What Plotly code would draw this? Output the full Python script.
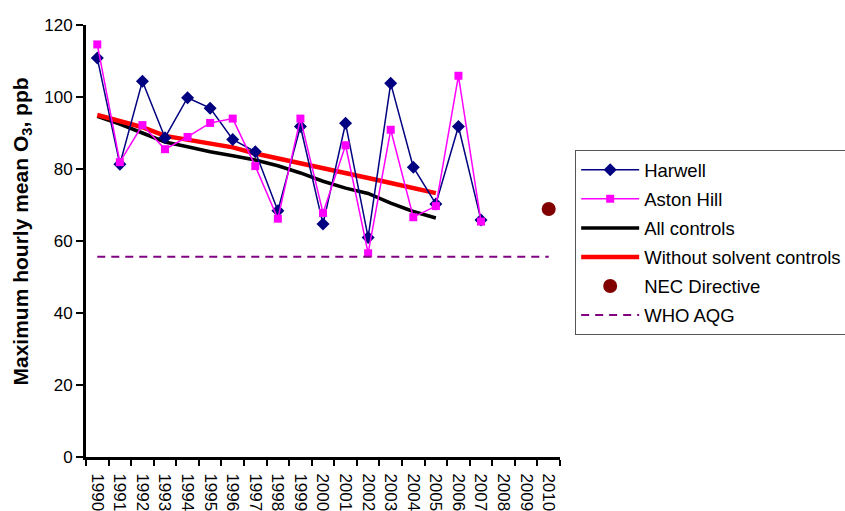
import plotly.graph_objects as go

years = [str(y) for y in range(1990, 2011)]

harwell_years = [str(y) for y in range(1990, 2008)]
harwell = [110.8, 81.3, 104.4, 88.7, 99.8, 96.9, 88.2, 84.8, 68.4,
           91.8, 64.7, 92.7, 61.0, 103.8, 80.5, 70.3, 91.8, 65.8]
aston_hill = [114.6, 81.9, 92.2, 85.5, 88.9, 92.8, 94.0, 80.8, 66.2,
              94.0, 67.8, 86.6, 56.6, 90.9, 66.6, 69.7, 105.9, 65.4]

control_years = [str(y) for y in range(1990, 2006)]
all_controls = [94.6, 92.5, 90.0, 87.5, 86.2, 84.8, 83.7, 82.5, 80.9,
                78.9, 76.6, 74.7, 73.2, 70.5, 68.2, 66.4]
without_solvent = [95.0, 93.3, 91.6, 89.2, 88.1, 87.1, 86.0, 84.3, 83.0,
                   81.7, 80.3, 78.9, 77.5, 76.1, 74.7, 73.3]

nec_year = ["2010"]
nec_directive = [68.9]

who_aqg = 55.6

font = "Liberation Sans, Arial, sans-serif"

fig = go.Figure()

fig.add_trace(go.Scatter(
    x=control_years, y=all_controls, name="All controls", mode="lines",
    line=dict(color="#000000", width=3.5), legendrank=3, legendgroup="c"))
fig.add_trace(go.Scatter(
    x=control_years, y=without_solvent, name="Without solvent controls",
    mode="lines", line=dict(color="#FF0000", width=4.5), legendrank=4,
    legendgroup="d"))
fig.add_trace(go.Scatter(
    x=harwell_years, y=harwell, name="Harwell", mode="lines+markers",
    line=dict(color="#000080", width=1.5),
    marker=dict(symbol="diamond", size=10, color="#000080"),
    legendrank=1, legendgroup="a"))
fig.add_trace(go.Scatter(
    x=harwell_years, y=aston_hill, name="Aston Hill", mode="lines+markers",
    line=dict(color="#FF00FF", width=1.5),
    marker=dict(symbol="square", size=8, color="#FF00FF"),
    legendrank=2, legendgroup="b"))
fig.add_trace(go.Scatter(
    x=nec_year, y=nec_directive, name="NEC Directive", mode="markers",
    marker=dict(symbol="circle", size=14, color="#800000"),
    legendrank=5, legendgroup="e"))
fig.add_trace(go.Scatter(
    x=years, y=[who_aqg] * len(years), name="WHO AQG", mode="lines",
    line=dict(color="#800080", width=2, dash="8px,6px"),
    legendrank=6, legendgroup="f"))

fig.update_layout(
    width=845, height=511,
    margin=dict(l=86, r=285, t=25, b=54, autoexpand=False),
    paper_bgcolor="white", plot_bgcolor="white",
    font=dict(family=font, size=17, color="#000000"),
    showlegend=True,
    legend=dict(
        x=1.032, y=0.71, xanchor="left", yanchor="top",
        bordercolor="#555555", borderwidth=1, bgcolor="white",
        font=dict(size=18.5), itemwidth=58, tracegroupgap=2,
    ),
    xaxis=dict(
        type="category", categoryorder="array", categoryarray=years,
        range=[-0.5, 20.5], tickson="boundaries",
        showline=True, linecolor="#000000", linewidth=3,
        ticks="outside", ticklen=6, tickwidth=2, tickcolor="#000000",
        tickangle=90, showgrid=False, zeroline=False,
        tickfont=dict(size=17), automargin=False, ticklabelstandoff=10,
    ),
    yaxis=dict(
        range=[0, 120], dtick=20, tick0=0,
        showline=True, linecolor="#000000", linewidth=3,
        ticks="outside", ticklen=7, tickwidth=2, tickcolor="#000000",
        showgrid=False, zeroline=False, tickfont=dict(size=17),
        automargin=False,
    ),
    annotations=[dict(
        text="<b>Maximum hourly mean O<sub>3</sub>, ppb</b>",
        xref="paper", yref="paper", x=-0.135, y=0.522,
        xanchor="center", yanchor="middle", textangle=-90,
        showarrow=False, font=dict(size=21, family=font),
    )],
)

fig.write_html("out.html")
